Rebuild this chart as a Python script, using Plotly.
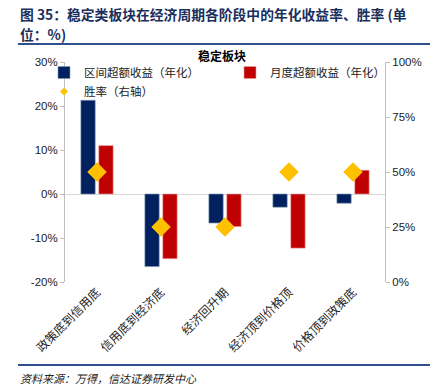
import plotly.graph_objects as go

categories = ["政策底到信用底", "信用底到经济底", "经济回升期", "经济顶到价格顶", "价格顶到政策底"]
interval_excess = [21.3, -16.5, -6.6, -3.0, -2.1]
monthly_excess = [11.0, -14.7, -7.4, -12.3, 5.4]
win_rate = [50, 25, 25, 50, 50]
left_ticks = [30, 20, 10, 0, -10, -20]
right_ticks = [100, 75, 50, 25, 0]

W, H = 444, 390
L, R, T, B = 65, 385, 62, 282
PW, PH = R - L, B - T

def px(x):
    return (x - L) / PW

def py(y):
    return (B - y) / PH

CJK = "Noto Sans CJK SC"
fig = go.Figure()
fig.add_trace(go.Bar(x=categories, y=interval_excess, name="区间超额收益（年化）", legend="legend",
                     marker=dict(color="#002060", line=dict(color="#8497b0", width=0.6))))
fig.add_trace(go.Bar(x=categories, y=monthly_excess, name="月度超额收益（年化）", legend="legend2",
                     marker=dict(color="#C00000", line=dict(color="#e8a0a0", width=0.6))))
fig.add_trace(go.Scatter(x=categories, y=win_rate, name="胜率（右轴）", yaxis="y2", mode="markers",
                         legend="legend", showlegend=False,
                         marker=dict(symbol="diamond", size=15, color="#FFC000")))
# legend entry for the win-rate series with a smaller symbol
fig.add_trace(go.Scatter(x=[None], y=[None], name="胜率（右轴）", yaxis="y2", mode="markers",
                         legend="legend",
                         marker=dict(symbol="diamond", size=6, color="#FFC000")))

legfont = dict(family=CJK, size=11.5, color="#222")
fig.update_layout(
    width=W, height=H,
    margin=dict(l=L, r=W - R, t=T, b=H - B, pad=0, autoexpand=False),
    paper_bgcolor="white", plot_bgcolor="white",
    bargap=0.44, bargroupgap=0.2, barmode="group",
    showlegend=True,
    legend=dict(orientation="v", x=px(44), y=py(58), xanchor="left", yanchor="top",
                font=legfont, itemwidth=30, bgcolor="rgba(0,0,0,0)", tracegroupgap=0,
                traceorder="normal"),
    legend2=dict(orientation="v", x=px(230), y=py(58), xanchor="left", yanchor="top",
                 font=legfont, itemwidth=30, bgcolor="rgba(0,0,0,0)"),
    xaxis=dict(showline=False, ticks="", tickangle=-45, automargin=False,
               tickfont=dict(family=CJK, size=12, color="#222")),
    yaxis=dict(range=[-20, 30], tickvals=left_ticks, ticktext=[f"{v}%" for v in left_ticks],
               showgrid=False, zeroline=True, zerolinecolor="#d9d9d9", zerolinewidth=1, automargin=False,
               showline=True, linecolor="#bfbfbf", ticks="outside", tickcolor="#bfbfbf", ticklen=4,
               tickfont=dict(family="Liberation Sans", size=11.5, color="#222")),
    yaxis2=dict(range=[0, 100], tickvals=right_ticks, ticktext=[f"{v}%" for v in right_ticks],
                overlaying="y", side="right", showgrid=False, zeroline=False, automargin=False,
                showline=True, linecolor="#bfbfbf", ticks="outside", tickcolor="#bfbfbf", ticklen=4,
                tickfont=dict(family="Liberation Sans", size=11.5, color="#222")),
)

fig.add_annotation(text="<b>图 35：稳定类板块在经济周期各阶段中的年化收益率、胜率 (单</b>",
                   xref="paper", yref="paper", x=px(18), y=py(14), xanchor="left", yanchor="middle",
                   showarrow=False, font=dict(family=CJK, size=13.8, color="#1a2f5c"))
fig.add_annotation(text="<b>位：%)</b>",
                   xref="paper", yref="paper", x=px(18), y=py(34), xanchor="left", yanchor="middle",
                   showarrow=False, font=dict(family=CJK, size=13.8, color="#1a2f5c"))
fig.add_annotation(text="<b>稳定板块</b>", xref="paper", yref="paper", x=px(222), y=py(55),
                   xanchor="center", yanchor="middle", showarrow=False,
                   font=dict(family=CJK, size=12, color="#000"))
fig.add_annotation(text="<i>资料来源：万得，信达证券研发中心</i>", xref="paper", yref="paper",
                   x=px(18), y=py(378), xanchor="left", yanchor="middle", showarrow=False,
                   font=dict(family=CJK, size=11, color="#222"))
for yy in (44, 365):
    fig.add_shape(type="line", xref="paper", yref="paper", x0=px(18), x1=px(430), y0=py(yy), y1=py(yy),
                  line=dict(color="#2f4f8f", width=2))

fig.write_html("out.html", config={"displayModeBar": False},
               post_script="document.body.style.margin='0';")
